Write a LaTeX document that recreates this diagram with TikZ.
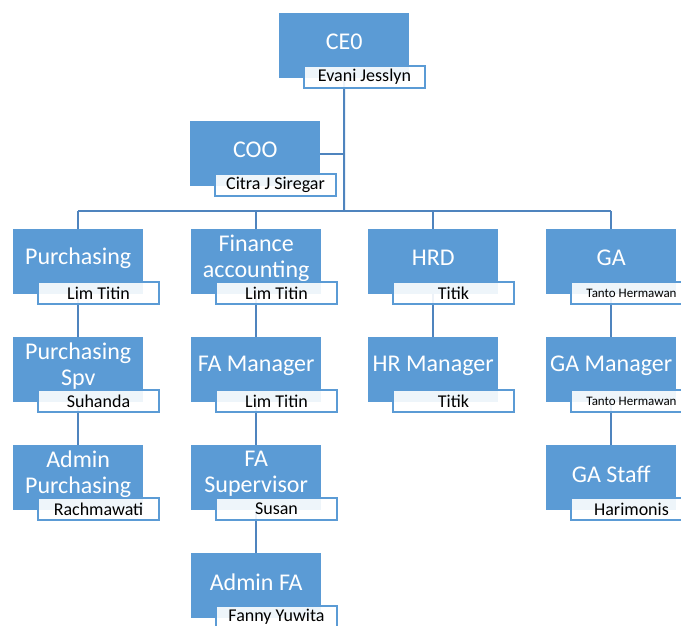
\documentclass[tikz,border=0pt]{standalone}
\usepackage{fontspec}
\setmainfont{Carlito}
\pgfdeclarelayer{bg}
\pgfsetlayers{bg,main}
\definecolor{obl}{HTML}{5B9BD5}
\definecolor{cbl}{HTML}{4F84BE}
\newcommand\orgbox[5]{%
 \node[posbox] (#1) at (#2,#3) {};
 \node[ttl] (#1t) at ([yshift=-29pt]#1.north) {#4};
 \node[namebox] (#1n) at ([xshift=24pt,yshift=-52pt]#1.north west) {#5};
}
\begin{document}
\begin{tikzpicture}[x=1pt,y=-1pt,
 posbox/.style={fill=obl, minimum width=130pt, minimum height=65pt, inner sep=0pt, anchor=north west},
 ttl/.style={text=white, font=\fontsize{24}{26}\selectfont, align=center, inner sep=0pt},
 namebox/.style={draw=obl, line width=2pt, fill=white, fill opacity=0.9, text opacity=1, minimum width=121pt, minimum height=22pt, inner sep=0pt, anchor=north west, font=\fontsize{18}{20}\selectfont},
 conn/.style={draw=cbl, line width=2pt}]
\useasboundingbox (0,0) rectangle (681,626);
\clip (0,0) rectangle (681,626);
\orgbox{ceo}{279}{13}{CE0}{Evani Jesslyn}
\orgbox{coo}{190}{121}{COO}{Citra J Siregar}
\orgbox{pur}{13}{229}{Purchasing}{Lim Titin}
\orgbox{fin}{191}{229}{Finance\\accounting}{Lim Titin}
\orgbox{hrd}{368}{229}{HRD}{Titik}
\orgbox{ga}{546}{229}{GA}{{\fontsize{13}{15}\selectfont Tanto Hermawan}}
\orgbox{pspv}{13}{337}{Purchasing\\Spv}{Suhanda}
\orgbox{fam}{191}{337}{FA Manager}{Lim Titin}
\orgbox{hrm}{368}{337}{HR Manager}{Titik}
\orgbox{gam}{546}{337}{GA Manager}{{\fontsize{13}{15}\selectfont Tanto Hermawan}}
\orgbox{padm}{13}{445}{Admin\\Purchasing}{Rachmawati}
\orgbox{fas}{191}{445}{FA\\Supervisor}{Susan}
\orgbox{gas}{546}{445}{GA Staff}{Harimonis}
\orgbox{faa}{191}{553}{Admin FA}{Fanny Yuwita}
\begin{pgfonlayer}{bg}
\coordinate (bus) at (344,211);
\draw[conn] (ceo.south) -- (bus);
\draw[conn] (coo.east) -- (coo.east -| bus);
\draw[conn] (pur.north |- bus) -- (ga.north |- bus);
\draw[conn] (pur.north |- bus) -- (pur.north);
\draw[conn] (fin.north |- bus) -- (fin.north);
\draw[conn] (hrd.north |- bus) -- (hrd.north);
\draw[conn] (ga.north |- bus) -- (ga.north);
\draw[conn] (pur.south) -- (pspv.north);
\draw[conn] (pspv.south) -- (padm.north);
\draw[conn] (fin.south) -- (fam.north);
\draw[conn] (fam.south) -- (fas.north);
\draw[conn] (fas.south) -- (faa.north);
\draw[conn] (hrd.south) -- (hrm.north);
\draw[conn] (ga.south) -- (gam.north);
\draw[conn] (gam.south) -- (gas.north);
\end{pgfonlayer}
\end{tikzpicture}
\end{document}
